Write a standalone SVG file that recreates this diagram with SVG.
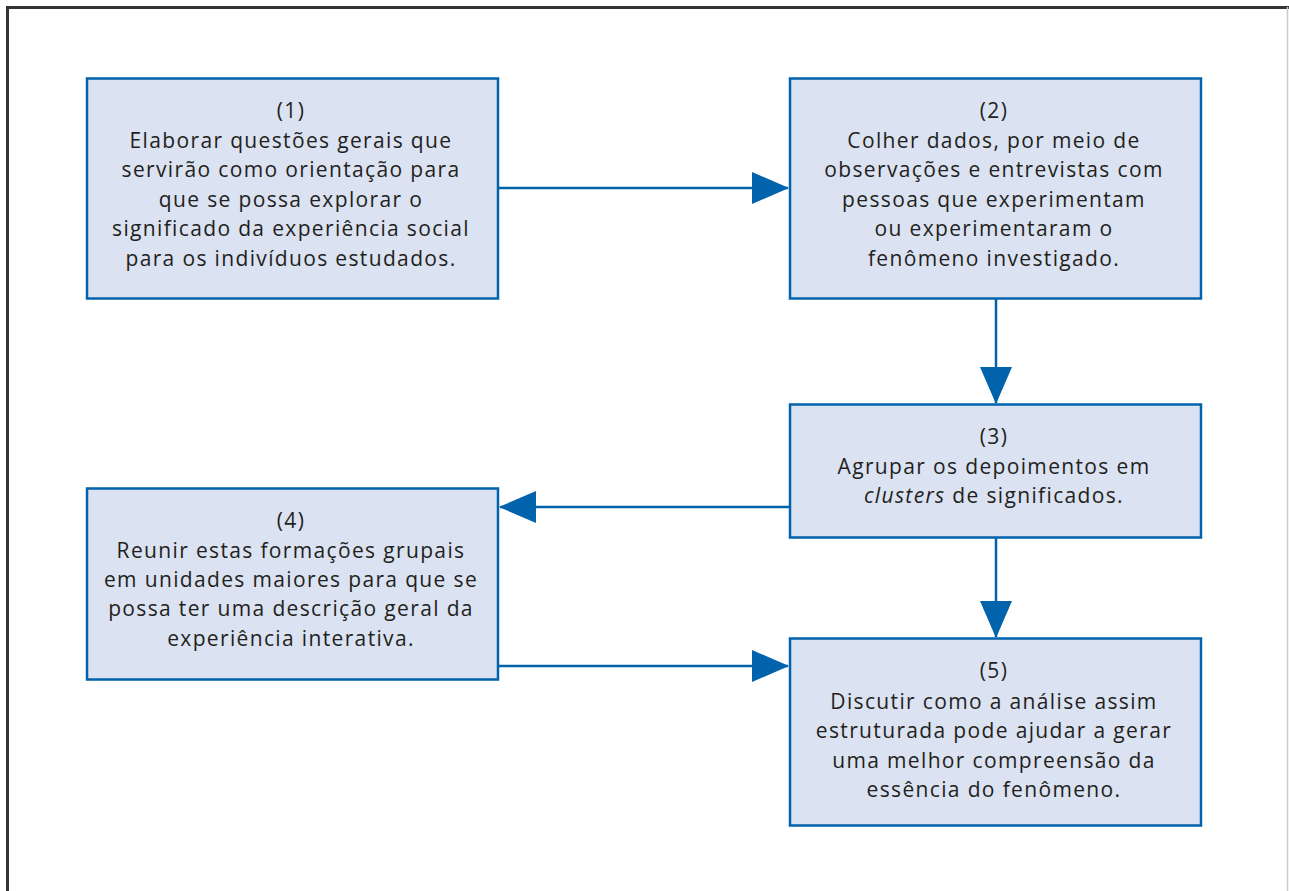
<svg xmlns="http://www.w3.org/2000/svg" width="1289" height="891" viewBox="0 0 1289 891">
<style>
.box{fill:#dbe2f1;stroke:#0063ab;stroke-width:2.5}
.t{font-family:"Open Sans","Noto Sans","Liberation Sans",sans-serif;font-size:21px;letter-spacing:1.35px;fill:#231f20;text-anchor:middle}
.c{stroke:#0063ab;stroke-width:2.5;fill:none;marker-end:url(#ah)}
</style>
<defs>
<marker id="ah" viewBox="0 0 37 32" refX="36" refY="16" markerWidth="37" markerHeight="32" markerUnits="userSpaceOnUse" orient="auto">
<path d="M0,0 L37,16 L0,32 Z" fill="#0063ab"/>
</marker>
</defs>
<rect width="1289" height="891" fill="#fff"/>
<g id="frame">
<path d="M7.5,891 V7.5 H1289" fill="none" stroke="#333" stroke-width="3"/>
<line x1="1287.5" y1="7" x2="1287.5" y2="891" stroke="#ccc" stroke-width="1.5"/>
</g>
<g id="connectors">
<line class="c" x1="499" y1="188" x2="788" y2="188"/>
<line class="c" x1="996" y1="299" x2="996" y2="403"/>
<line class="c" x1="789" y1="507" x2="500" y2="507"/>
<line class="c" x1="996" y1="538" x2="996" y2="637"/>
<line class="c" x1="499" y1="666" x2="788" y2="666"/>
</g>
<g id="node1">
<rect class="box" x="87" y="78.5" width="411" height="220"/>
<text class="t"><tspan x="291" y="118">(1)</tspan><tspan x="291" y="147.5">Elaborar questões gerais que</tspan><tspan x="291" y="177">servirão como orientação para</tspan><tspan x="291" y="206.5">que se possa explorar o</tspan><tspan x="291" y="236">significado da experiência social</tspan><tspan x="291" y="265.5">para os indivíduos estudados.</tspan></text>
</g>
<g id="node2">
<rect class="box" x="790" y="78.5" width="411" height="220"/>
<text class="t"><tspan x="994" y="118">(2)</tspan><tspan x="994" y="147.5">Colher dados, por meio de</tspan><tspan x="994" y="177">observações e entrevistas com</tspan><tspan x="994" y="206.5">pessoas que experimentam</tspan><tspan x="994" y="236">ou experimentaram o</tspan><tspan x="994" y="265.5">fenômeno investigado.</tspan></text>
</g>
<g id="node3">
<rect class="box" x="790" y="404.5" width="411" height="133"/>
<text class="t"><tspan x="994" y="444">(3)</tspan><tspan x="994" y="474">Agrupar os depoimentos em</tspan><tspan x="994" y="503"><tspan font-style="italic">clusters</tspan> de significados.</tspan></text>
</g>
<g id="node4">
<rect class="box" x="87" y="488.5" width="411" height="191"/>
<text class="t"><tspan x="291" y="528">(4)</tspan><tspan x="291" y="558">Reunir estas formações grupais</tspan><tspan x="291" y="587">em unidades maiores para que se</tspan><tspan x="291" y="616">possa ter uma descrição geral da</tspan><tspan x="291" y="645.5">experiência interativa.</tspan></text>
</g>
<g id="node5">
<rect class="box" x="790" y="638.5" width="411" height="187"/>
<text class="t"><tspan x="994" y="678">(5)</tspan><tspan x="994" y="709">Discutir como a análise assim</tspan><tspan x="994" y="738">estruturada pode ajudar a gerar</tspan><tspan x="994" y="767.5">uma melhor compreensão da</tspan><tspan x="994" y="796.5">essência do fenômeno.</tspan></text>
</g>
</svg>
